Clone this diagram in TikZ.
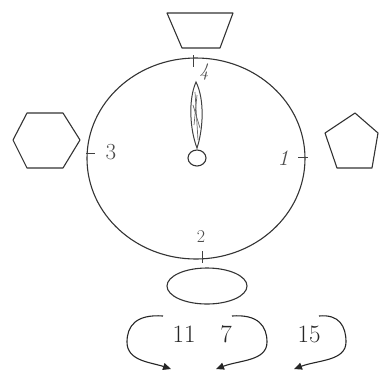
\documentclass[tikz,border=0pt]{standalone}
\usetikzlibrary{arrows.meta}
\begin{document}
\begin{tikzpicture}[x=1pt,y=-1pt]
\tikzset{
  outl/.style={draw=black!80,line width=1.1pt,line join=round},
  thin/.style={draw=black!75,line width=0.8pt},
  hand/.style={font=\fontsize{22}{22}\selectfont\itshape, text=black!70, inner sep=0pt},
  num/.style={font=\fontsize{25}{25}\selectfont, text=black!85, inner sep=0pt},
  loopar/.style={draw=black!85,line width=1.1pt,-{Triangle[length=8pt,width=7pt]}}
}
\useasboundingbox (0,0) rectangle (380,376);
% dial
\draw[outl] (196,158.5) ellipse [x radius=109, y radius=100.5];
% shapes
\draw[outl] (167,13) -- (233,13) -- (220,48) -- (182,48) -- cycle;
\draw[outl] (27,113) -- (63,113) -- (80,140) -- (63,168) -- (27,168) -- (13,140) -- cycle;
\draw[outl] (355,113) -- (378,133) -- (372,168) -- (337,168) -- (325,133) -- cycle;
\draw[outl] (207,286) ellipse [x radius=40, y radius=18];
% ticks
\draw[thin] (193,55) -- (193,67);
\draw[thin] (86,153) -- (95,153);
\draw[thin] (298,157) -- (308,157);
\draw[thin] (202,251) -- (202,263);
% hand and hub
\draw[thin,line width=1pt] (196,82) .. controls (205,100) and (203,130) .. (197,148) .. controls (190,130) and (188,100) .. cycle;
\draw[draw=black!60,line width=0.7pt] (195,92) -- (198,140);
\draw[draw=black!60,line width=0.7pt] (193,105) -- (200,128);
\draw[draw=black!60,line width=0.7pt] (197,95) -- (194,125);
\draw[outl] (197,158) ellipse [x radius=9, y radius=8];
% hand-written marks
\node[hand,font=\fontsize{19}{19}\selectfont\itshape] (n4) at (204,72) {4};
\node[hand,font=\fontsize{23}{23}\selectfont\upshape] (n3) at (111,152) {3};
\node[hand] (n1) at (283,158) {1};
\node[hand,font=\fontsize{18}{18}\selectfont] (n2) at (201,237) {2};
% bottom numbers
\node[num] (n11) at (184,334) {11};
\node[num] (n7) at (226,334) {7};
\node[num] (n15) at (309,334) {15};
% loops
\coordinate (a1) at (163,316);
\coordinate (b1) at (171,369);
\draw[loopar] (a1) .. controls (136,314) and (127,326) .. (127,342) .. controls (127,361) and (150,362) .. (b1);
\coordinate (a2) at (232,316);
\coordinate (b2) at (216,369);
\draw[loopar] (a2) .. controls (258,314) and (267,326) .. (267,342) .. controls (267,361) and (240,360) .. (b2);
\coordinate (a3) at (319,316);
\coordinate (b3) at (294,369);
\draw[loopar] (a3) .. controls (339,314) and (346,326) .. (346,342) .. controls (346,361) and (318,360) .. (b3);
\end{tikzpicture}
\end{document}
